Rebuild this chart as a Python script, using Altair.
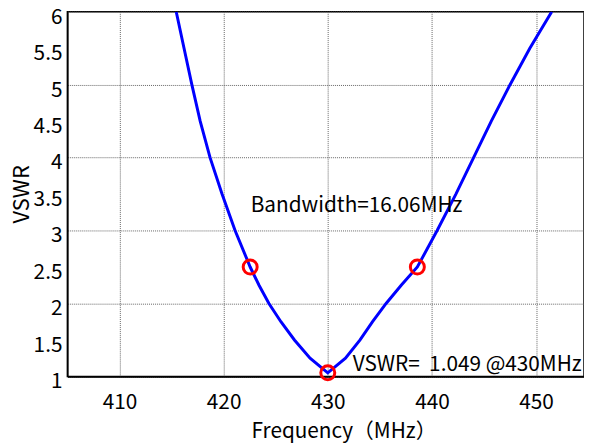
import altair as alt
import pandas as pd

# VSWR curve
freq = [415.45, 416.2, 416.95, 417.75, 418.7, 419.85, 421.1, 422.55, 423.4, 424.35,
        425.5, 426.8, 428.3, 430.0, 431.7, 433.1, 434.3, 435.6, 437.05, 438.6,
        440.5, 442.3, 444.0, 445.7, 447.5, 449.4, 451.5]
vswr = [6.0, 5.5, 5.0, 4.5, 4.0, 3.5, 3.0, 2.5, 2.25, 2.0,
        1.75, 1.5, 1.25, 1.049, 1.25, 1.5, 1.75, 2.0, 2.25, 2.5,
        3.0, 3.5, 4.0, 4.5, 5.0, 5.5, 6.0]

# Marked points (band edges at VSWR=2.5 and the minimum)
marker_freq = [422.55, 438.6, 430.0]
marker_vswr = [2.5, 2.5, 1.049]

# Annotations
ann_text = ["Bandwidth=16.06MHz", "VSWR=\u00a0 1.049 @430MHz"]
ann_freq = [422.6, 432.4]
ann_vswr = [3.25, 1.08]

x_ticks = [410, 420, 430, 440, 450]
y_ticks = [1, 1.5, 2, 2.5, 3, 3.5, 4, 4.5, 5, 5.5, 6]
y_tick_labels = ["1", "1.5", "2", "2.5", "3", "3.5", "4", "4.5", "5", "5.5", "6"]

FONT = "Noto Sans CJK JP"
X_MIN, X_MAX = 405, 454.6

curve_df = pd.DataFrame({"f": freq, "v": vswr})
marker_df = pd.DataFrame({"f": marker_freq, "v": marker_vswr})
ann_df = pd.DataFrame({"f": ann_freq, "v": ann_vswr, "t": ann_text})
ylab_df = pd.DataFrame({"f": [X_MIN] * len(y_ticks), "v": y_ticks, "t": y_tick_labels})

x_scale = alt.Scale(domain=[X_MIN, X_MAX], nice=False, zero=False)
y_scale = alt.Scale(domain=[1, 6], nice=False, zero=False)

x_axis = alt.Axis(
    values=x_ticks, title="Frequency（MHz）", grid=True, ticks=False,
    labelPadding=15, labelFontSize=21, titleFontSize=21, labelOverlap=False,
    titleX=279, titleY=62, titleBaseline="alphabetic", titleAlign="center",
)
y_axis = alt.Axis(
    values=y_ticks, title="VSWR", grid=True, ticks=False, labels=False,
    titleFontSize=22,
    titleX=-46, titleY=184, titleAngle=270, titleAlign="center",
    titleBaseline="middle",
)

line = alt.Chart(curve_df).mark_line(
    color="#0000ff", strokeWidth=3, interpolate="linear", clip=True
).encode(
    x=alt.X("f:Q", scale=x_scale, axis=x_axis),
    y=alt.Y("v:Q", scale=y_scale, axis=y_axis),
)

markers = alt.Chart(marker_df).mark_point(
    shape="circle", filled=False, color="#ff0000", strokeWidth=3, size=200, opacity=1
).encode(
    x=alt.X("f:Q", scale=x_scale),
    y=alt.Y("v:Q", scale=y_scale),
)

labels = alt.Chart(ann_df).mark_text(
    align="left", baseline="alphabetic", fontSize=21, font=FONT, color="black"
).encode(
    x=alt.X("f:Q", scale=x_scale),
    y=alt.Y("v:Q", scale=y_scale),
    text="t:N",
)

ylabels = alt.Chart(ylab_df).mark_text(
    align="right", baseline="middle", fontSize=21, font=FONT, color="black",
    dx=-5, dy=6, clip=False
).encode(
    x=alt.X("f:Q", scale=x_scale),
    y=alt.Y("v:Q", scale=y_scale),
    text="t:N",
)

chart = alt.layer(line, markers, labels, ylabels).properties(
    width=522, height=368.5,
    autosize="none",
    padding={"left": 60, "top": 1.5, "right": 0, "bottom": 65},
).configure_view(
    stroke="black", strokeWidth=1.5
).configure_axis(
    labelFont=FONT, titleFont=FONT, labelColor="black", titleColor="black",
    titleFontWeight="normal", domainColor="black", domainWidth=1.5,
    gridColor="#666666", gridDash=[1, 1], gridWidth=1, gridOpacity=1,
)

chart.save("out.html", embed_options={"renderer": "svg", "actions": False})
